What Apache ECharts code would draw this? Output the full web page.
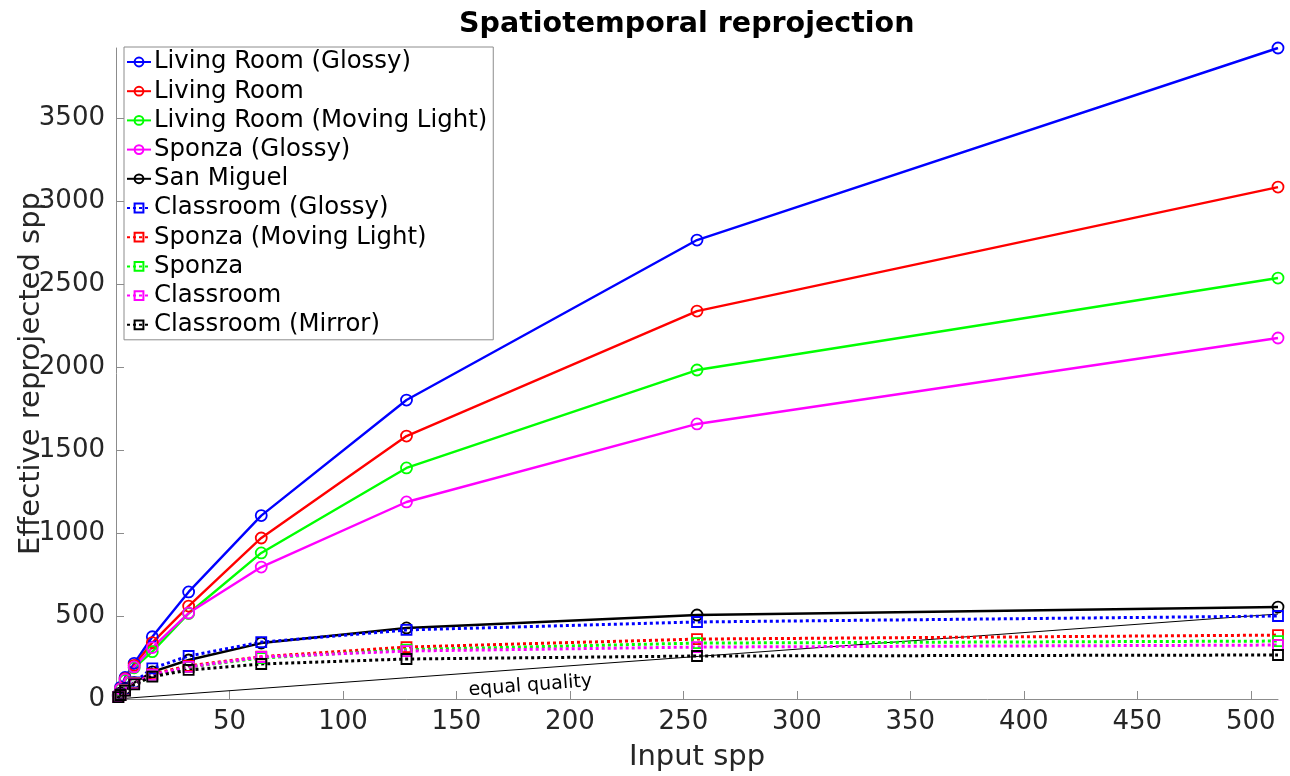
<!DOCTYPE html>
<html lang="en">
<head>
<meta charset="UTF-8">
<title>Spatiotemporal reprojection</title>
<script type="text/javascript" src="https://cdn.jsdelivr.net/npm/echarts@6/dist/echarts.min.js"></script>
<style>
  html, body { margin: 0; padding: 0; background: #fff; }
</style>
</head>
<body>
<div id="chart" style="width:1290px;height:776px;"></div>

<script type="text/javascript">
// input spp (x values)
var spp = [1, 2, 4, 8, 16, 32, 64, 128, 256, 512];

// effective reprojected spp
var livingRoomGlossy      = [24, 70, 130, 215, 375, 645, 1105, 1801, 2765, 3922];
var livingRoom            = [22, 62, 122, 203, 340, 560, 970, 1584, 2337, 3084];
var livingRoomMoving      = [20, 56, 112, 188, 285, 515, 880, 1392, 1982, 2536];
var sponzaGlossy          = [22, 60, 118, 193, 310, 518, 795, 1187, 1657, 2175];
var sanMiguel             = [15, 36, 62, 98, 163, 235, 337, 428, 506, 554];
var classroomGlossy       = [13, 28, 58, 100, 185, 259, 343, 416, 464, 500];
var sponzaMoving          = [12, 26, 55, 95, 150, 200, 255, 313, 361, 385];
var sponza                = [12, 25, 52, 92, 140, 192, 247, 297, 337, 349];
var classroom             = [12, 25, 52, 92, 145, 193, 253, 289, 313, 325];
var classroomMirror       = [11, 24, 50, 88, 135, 175, 211, 241, 259, 265];

// equal quality reference line (y = x)
var equalX = [1, 512];
var equalY = [1, 512];

var xTicks = [50, 100, 150, 200, 250, 300, 350, 400, 450, 500];
var yTicks = [0, 500, 1000, 1500, 2000, 2500, 3000, 3500];

var names = ['Living Room (Glossy)', 'Living Room', 'Living Room (Moving Light)', 'Sponza (Glossy)',
             'San Miguel', 'Classroom (Glossy)', 'Sponza (Moving Light)', 'Sponza', 'Classroom', 'Classroom (Mirror)'];
var values = [livingRoomGlossy, livingRoom, livingRoomMoving, sponzaGlossy, sanMiguel,
              classroomGlossy, sponzaMoving, sponza, classroom, classroomMirror];
var colors = ['#0000ff', '#ff0000', '#00ff00', '#ff00ff', '#000000',
              '#0000ff', '#ff0000', '#00ff00', '#ff00ff', '#000000'];

function pairs(xs, ys) {
    var out = [];
    for (var i = 0; i < xs.length; i++) out.push([xs[i], ys[i]]);
    return out;
}

var chart = echarts.init(document.getElementById('chart'));
var font = 'DejaVu Sans';

var series = [{
    name: 'equal',
    type: 'line',
    data: pairs(equalX, equalY),
    symbol: 'none',
    lineStyle: { color: '#000', width: 1 },
    emphasis: { disabled: true },
    z: 2
}];
for (var i = 0; i < names.length; i++) {
    var dotted = i >= 5;
    series.push({
        name: names[i],
        type: 'line',
        data: pairs(spp, values[i]),
        symbol: dotted ? 'rect' : 'circle',
        symbolSize: dotted ? 10 : 11,
        showSymbol: true,
        lineStyle: {
            color: colors[i],
            width: dotted ? 3 : 2.4,
            type: dotted ? [3, 3] : 'solid'
        },
        itemStyle: {
            color: 'rgba(255,255,255,0)',
            borderColor: colors[i],
            borderWidth: 1.8
        },
        emphasis: { disabled: true },
        z: 3
    });
}

var option = {
    animation: false,
    title: {
        text: 'Spatiotemporal reprojection',
        left: 454,
        top: 5,
        textStyle: { fontFamily: font, fontSize: 28.5, fontWeight: 'bold', color: '#000' }
    },
    legend: {
        data: names,
        orient: 'vertical',
        left: 124,
        top: 47,
        padding: [3, 6, 3, 2],
        itemGap: 5.2,
        itemWidth: 24,
        itemHeight: 11,
        backgroundColor: '#fff',
        borderColor: '#8c8c8c',
        borderWidth: 1,
        borderRadius: 0,
        textStyle: { fontFamily: font, fontSize: 24.4, color: '#000', lineHeight: 24, padding: [0, 0, 0, -2] }
    },
    grid: { left: 116, right: 12, top: 48, bottom: 77, containLabel: false, outerBoundsMode: 'none' },
    xAxis: {
        type: 'value',
        min: 0,
        max: 512,
        name: 'Input spp',
        nameLocation: 'middle',
        nameGap: 44,
        nameMoveOverlap: false,
        nameTextStyle: { fontFamily: font, fontSize: 29, color: '#262626' },
        axisLine: { show: true, lineStyle: { color: '#8c8c8c', width: 1 } },
        axisTick: { show: true, inside: true, length: 8, customValues: xTicks, lineStyle: { color: '#8c8c8c' } },
        axisLabel: { customValues: xTicks, fontFamily: font, fontSize: 26, color: '#262626', margin: 10,
                     formatter: function (v) { return String(v); } },
        splitLine: { show: false }
    },
    yAxis: {
        type: 'value',
        min: 0,
        max: 3922,
        name: 'Effective reprojected spp',
        nameLocation: 'middle',
        nameGap: 70,
        nameMoveOverlap: false,
        nameTextStyle: { fontFamily: font, fontSize: 29, color: '#262626' },
        axisLine: { show: true, lineStyle: { color: '#8c8c8c', width: 1 } },
        axisTick: { show: true, inside: true, length: 8, customValues: yTicks, lineStyle: { color: '#8c8c8c' } },
        axisLabel: { customValues: yTicks, fontFamily: font, fontSize: 26, color: '#262626', margin: 11,
                     formatter: function (v) { return String(v); } },
        splitLine: { show: false }
    },
    series: series
};

chart.setOption(option);

// "equal quality" label sitting just under the y = x line
var p0 = chart.convertToPixel({ gridIndex: 0 }, [equalX[0], equalY[0]]);
var p1 = chart.convertToPixel({ gridIndex: 0 }, [equalX[1], equalY[1]]);
var ang = Math.atan2(p0[1] - p1[1], p1[0] - p0[0]);
var at = chart.convertToPixel({ gridIndex: 0 }, [182, 182]);
chart.setOption({
    graphic: [{
        type: 'text',
        x: at[0] + Math.sin(ang) * 17,
        y: at[1] + Math.cos(ang) * 17,
        rotation: ang,
        style: {
            text: 'equal quality',
            fontFamily: font,
            fontSize: 19,
            fill: '#000',
            align: 'center',
            verticalAlign: 'middle'
        },
        z: 10
    }]
});
</script>
</body>
</html>
